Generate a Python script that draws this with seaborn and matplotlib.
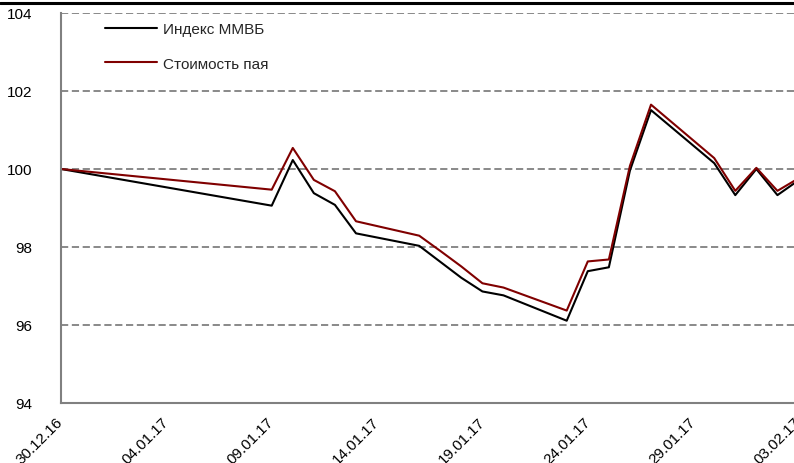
"""
MICEX index vs fund unit value, Dec 2016 - Feb 2017
"""

import pandas as pd
import matplotlib
matplotlib.use('Agg')
import matplotlib.pyplot as plt
import matplotlib.dates as mdates
from matplotlib.lines import Line2D
import seaborn as sns

# ============================================================================
# DATA
# ============================================================================

dates = ['2016-12-30', '2017-01-09', '2017-01-10', '2017-01-11', '2017-01-12',
         '2017-01-13', '2017-01-16', '2017-01-17', '2017-01-18', '2017-01-19',
         '2017-01-20', '2017-01-23', '2017-01-24', '2017-01-25', '2017-01-26',
         '2017-01-27', '2017-01-30', '2017-01-31', '2017-02-01', '2017-02-02',
         '2017-02-03']

micex = [100.00, 99.06, 100.23, 99.38, 99.08, 98.35, 98.03, 97.62, 97.21, 96.86,
         96.76, 96.11, 97.38, 97.48, 99.96, 101.51, 100.15, 99.33, 100.00, 99.33,
         99.71]

unit_value = [100.00, 99.47, 100.54, 99.72, 99.43, 98.66, 98.29, 97.90, 97.50, 97.07,
              96.96, 96.37, 97.63, 97.68, 100.08, 101.65, 100.28, 99.44, 100.03, 99.44,
              99.76]

series_names = ['Индекс ММВБ', 'Стоимость пая']
tick_dates = ['2016-12-30', '2017-01-04', '2017-01-09', '2017-01-14',
              '2017-01-19', '2017-01-24', '2017-01-29', '2017-02-03']
y_ticks = [94, 96, 98, 100, 102, 104]

# ============================================================================
# PLOT
# ============================================================================

df = pd.DataFrame({'date': pd.to_datetime(dates), series_names[0]: micex,
                   series_names[1]: unit_value})
long_df = df.melt(id_vars='date', var_name='series', value_name='value')

sns.set_style('white')
plt.rcParams['font.family'] = ['Liberation Sans', 'DejaVu Sans']

fig = plt.figure(figsize=(7.94, 4.64), dpi=100)
ax = fig.add_axes([61 / 794, 60 / 464, (798.5 - 61) / 794, 390 / 464])

sns.lineplot(data=long_df, x='date', y='value', hue='series',
             palette=['#000000', '#800000'], linewidth=1.5, ax=ax)

ax.set_xlim(pd.Timestamp(tick_dates[0]), pd.Timestamp(tick_dates[-1]))
ax.set_ylim(94, 104)
ax.set_yticks(y_ticks)
ax.set_xticks(pd.to_datetime(tick_dates))
ax.xaxis.set_major_formatter(mdates.DateFormatter('%d.%m.%y'))
ax.set_xlabel('')
ax.set_ylabel('')

ax.tick_params(axis='both', labelsize=11, colors='#808080', labelcolor='black',
               length=5, width=1.5, direction='inout')
ax.tick_params(axis='y', pad=18)
ax.tick_params(axis='x', pad=9)

for label in ax.get_xticklabels():
    label.set_rotation(45)
    label.set_ha('right')
    label.set_va('center')
    label.set_rotation_mode('anchor')

ax.yaxis.grid(True, color='#808080', linestyle=(0, (4, 2)), linewidth=1.3)
ax.set_axisbelow(True)

for side in ['top', 'right']:
    ax.spines[side].set_visible(False)
for side in ['left', 'bottom']:
    ax.spines[side].set_color('#808080')
    ax.spines[side].set_linewidth(1.5)

ax.legend(loc='upper left', bbox_to_anchor=(0.0406, 1.0115), frameon=False,
          fontsize=11, handlelength=3.4, handletextpad=0.4, labelspacing=1.33,
          title=None)

# thick rule across the top of the picture
fig.add_artist(Line2D([0, 1], [1 - 4 / 464, 1 - 4 / 464], color='black',
                      linewidth=2.2, transform=fig.transFigure))

fig.savefig('out.png', dpi=100)
